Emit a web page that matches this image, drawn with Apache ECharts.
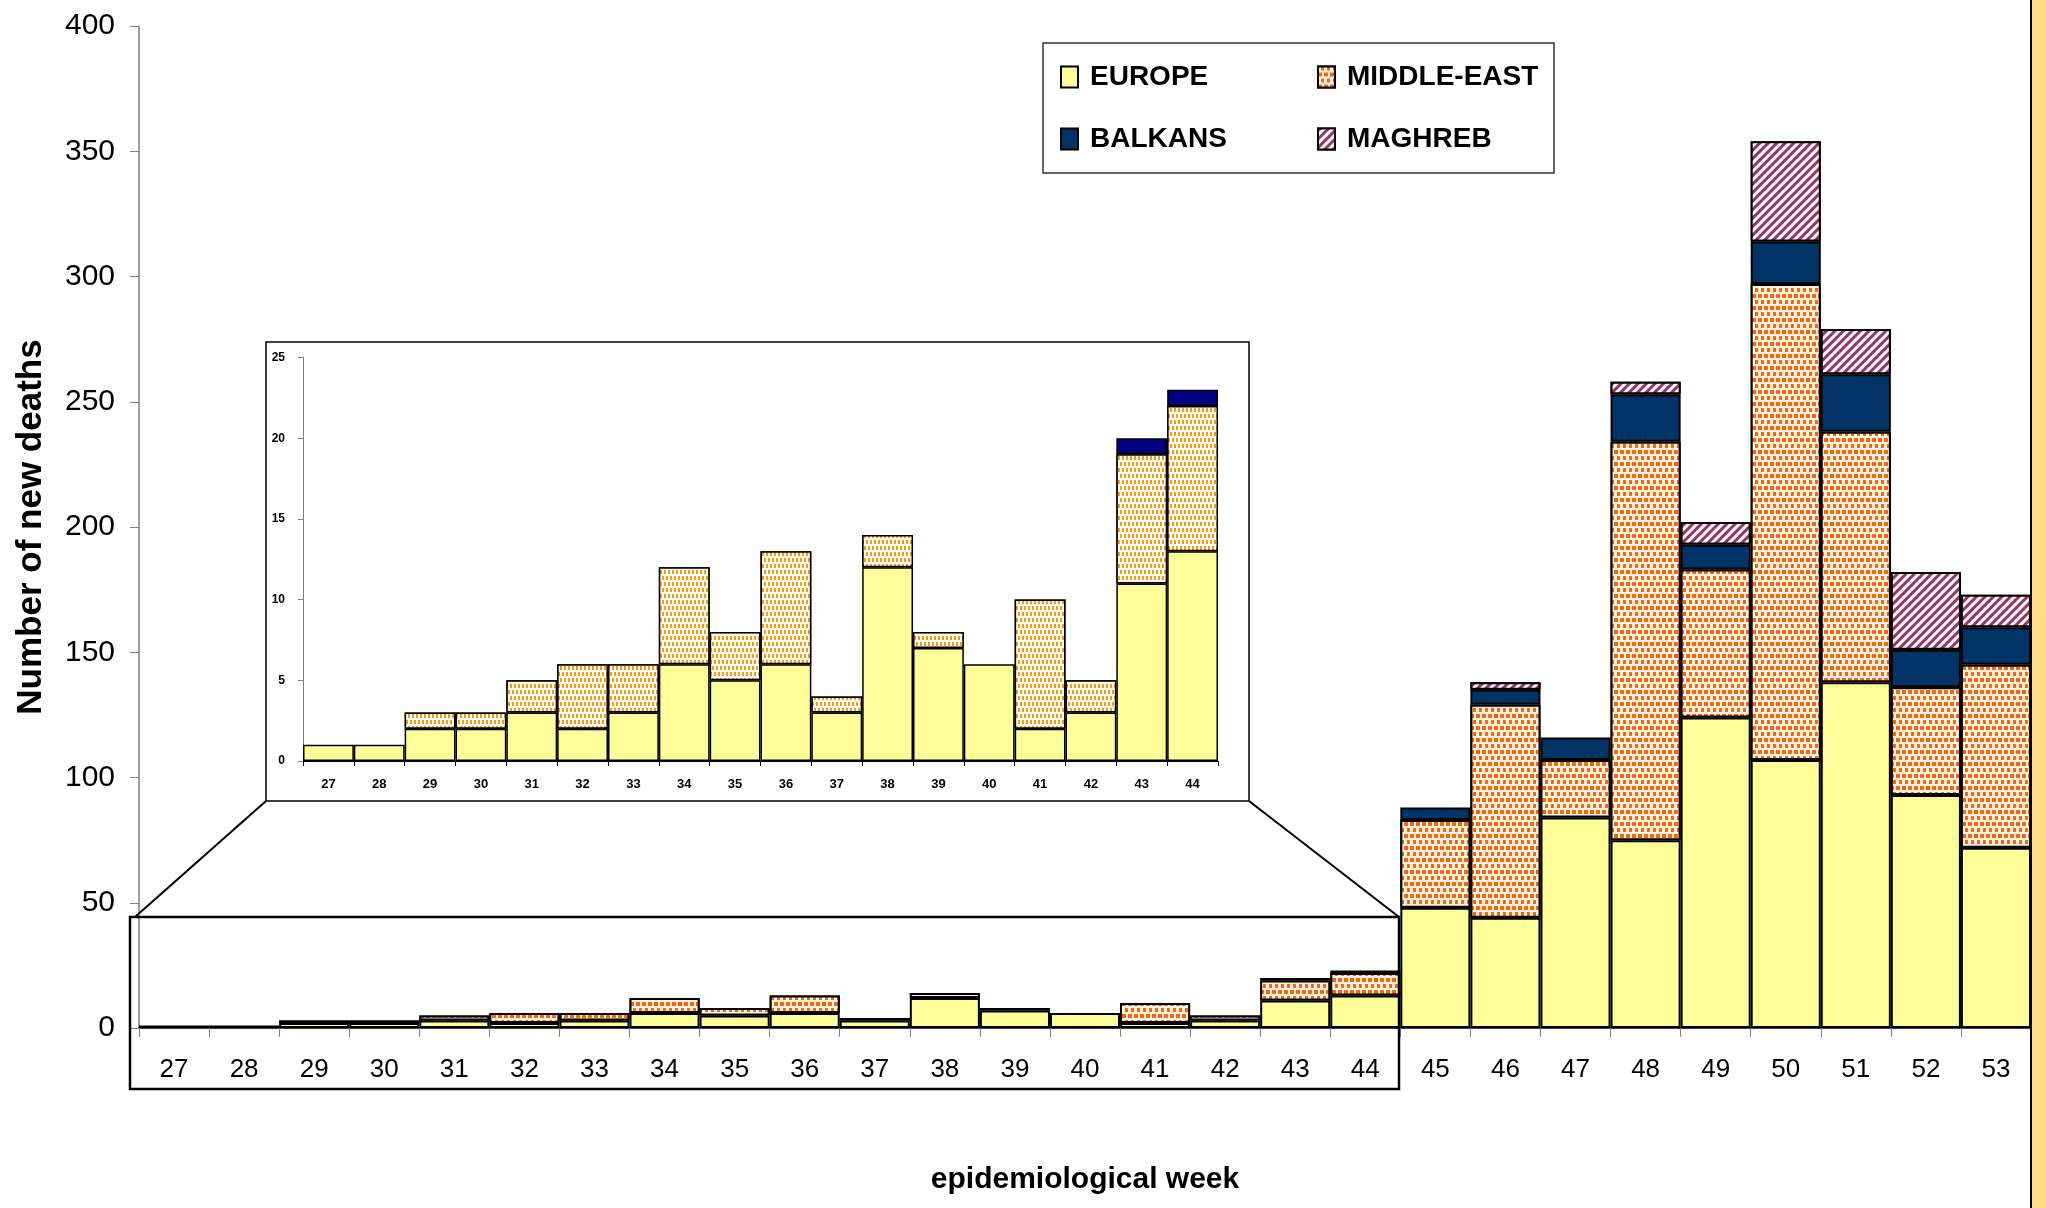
<!DOCTYPE html>
<html>
<head>
<meta charset="utf-8">
<script src="https://cdn.jsdelivr.net/npm/echarts@6/dist/echarts.min.js"></script>
<style>
html,body{margin:0;padding:0;background:#fff;}
#chart{width:2046px;height:1208px;}
</style>
</head>
<body>
<div id="chart"></div>
<script>
// ---- data ----
const weeks = ['27','28','29','30','31','32','33','34','35','36','37','38','39','40','41','42','43','44','45','46','47','48','49','50','51','52','53'];
const europe     = [1,1,2,2,3,2,3,6,5,6,3,12,7,6,2,3,11,13, 48,44,84,75,124,107,138,93,72];
const middleEast = [0,0,1,1,2,4,3,6,3,7,1,2,1,0,8,2,8,9, 35,85,23,159,59,190,100,43,73];
const balkans    = [0,0,0,0,0,0,0,0,0,0,0,0,0,0,0,0,1,1, 5,6,9,19,10,17,23,15,15];
const maghreb    = [0,0,0,0,0,0,0,0,0,0,0,0,0,0,0,0,0,0, 0,3,0,5,9,40,18,31,13];
const mainTicks  = [0,50,100,150,200,250,300,350,400];
const insetTicks = [0,5,10,15,20,25];
const insetCount = 18; // weeks 27..44 shown in the inset

const FONT = "'Liberation Sans',Arial,Helvetica,sans-serif";
const nz = a => a.map(v => v === 0 ? '-' : v);

const decalME = {symbol:'rect', symbolSize:1, symbolKeepAspect:false, color:'#FF6600', backgroundColor:'#FFF3EA',
                 dashArrayX:[[4,2],[0,3,3,0]], dashArrayY:[4,1.5]};
const decalMA = {symbol:'rect', symbolSize:1, symbolKeepAspect:false, color:'#993366', backgroundColor:'#FFFFFF',
                 dashArrayX:[1,0], dashArrayY:[2.5,3], rotation:-Math.PI/4};
const decalMEinset = {symbol:'rect', symbolSize:1, symbolKeepAspect:false, color:'#FF9900', backgroundColor:'#FFFFFF',
                 dashArrayX:[[2,2],[0,2,2,0]], dashArrayY:[4,1.5]};

function bar(name, data, xi, stack, style, bw){
  return {
    type:'bar', name:name, data:nz(data), xAxisIndex:xi, yAxisIndex:xi, stack:stack,
    barCategoryGap:'0%', barGap:'0%',
    itemStyle:Object.assign({borderColor:'#000', borderWidth:bw}, style)
  };
}

const series = [
  bar('EUROPE', europe, 0, 'm', {color:'#FFFF99'}, 2),
  bar('MIDDLE-EAST', middleEast, 0, 'm', {color:'#FFFFFF', decal:decalME}, 2),
  bar('BALKANS', balkans, 0, 'm', {color:'#003366'}, 2),
  bar('MAGHREB', maghreb, 0, 'm', {color:'#FFFFFF', decal:decalMA}, 2),
  bar('EUROPE', europe.slice(0,insetCount), 1, 'i', {color:'#FFFF99'}, 1.5),
  bar('MIDDLE-EAST', middleEast.slice(0,insetCount), 1, 'i', {color:'#FFFFFF', decal:decalMEinset}, 1.5),
  bar('BALKANS', balkans.slice(0,insetCount), 1, 'i', {color:'#000080'}, 1.5)
];

function legend(name, left, top){
  return {
    data:[name], left:left, top:top, padding:0, itemGap:0,
    itemWidth:17, itemHeight:21, selectedMode:false, icon:'rect',
    textStyle:{fontFamily:FONT, fontWeight:'bold', fontSize:28, color:'#000', padding:[0,0,0,7]}
  };
}

const option = {
  animation:false,
  backgroundColor:'#FFFFFF',
  grid:[
    {left:139, right:15, top:26, bottom:180, containLabel:false},
    {left:303, right:828, top:357.5, bottom:447, containLabel:false}
  ],
  legend:[
    legend('EUROPE', 1060, 63),
    legend('MIDDLE-EAST', 1317, 63),
    legend('BALKANS', 1060, 125),
    legend('MAGHREB', 1317, 125)
  ],
  xAxis:[
    {type:'category', gridIndex:0, data:weeks,
     axisLine:{lineStyle:{color:'#000', width:1.5}},
     axisTick:{show:true, length:9, lineStyle:{color:'#808080'}},
     axisLabel:{fontFamily:FONT, fontSize:26, color:'#000', margin:29},
     name:'epidemiological week', nameLocation:'middle', nameGap:137,
     nameTextStyle:{fontFamily:FONT, fontWeight:'bold', fontSize:30, color:'#000'}},
    {type:'category', gridIndex:1, data:weeks.slice(0,insetCount),
     axisLine:{lineStyle:{color:'#000', width:1.2}},
     axisTick:{show:true, length:5, lineStyle:{color:'#000'}},
     axisLabel:{fontFamily:FONT, fontWeight:'bold', fontSize:13, color:'#000', margin:17}}
  ],
  yAxis:[
    {type:'value', gridIndex:0, min:mainTicks[0], max:mainTicks[mainTicks.length-1], interval:mainTicks[1]-mainTicks[0],
     splitLine:{show:false},
     axisLine:{show:true, lineStyle:{color:'#808080', width:1.5}},
     axisTick:{show:true, length:9, lineStyle:{color:'#808080'}},
     axisLabel:{fontFamily:FONT, fontSize:30, color:'#000', margin:24},
     name:'Number of new deaths', nameLocation:'middle', nameRotate:90, nameGap:90,
     nameTextStyle:{fontFamily:FONT, fontWeight:'bold', fontSize:35, color:'#000'}},
    {type:'value', gridIndex:1, min:insetTicks[0], max:insetTicks[insetTicks.length-1], interval:insetTicks[1]-insetTicks[0],
     splitLine:{show:false},
     axisLine:{show:true, lineStyle:{color:'#808080', width:1}},
     axisTick:{show:true, length:5, lineStyle:{color:'#808080'}},
     axisLabel:{fontFamily:FONT, fontWeight:'bold', fontSize:12, color:'#000', margin:18}}
  ],
  graphic:[
    {type:'rect', z:0, shape:{x:1043, y:43, width:511, height:130}, style:{fill:'#FFFFFF', stroke:'#333', lineWidth:1.5}},
    {type:'rect', z:0, shape:{x:266, y:342, width:983, height:459}, style:{fill:null, stroke:'#000', lineWidth:1.5}},
    {type:'rect', z:10, shape:{x:130, y:917, width:1269, height:172}, style:{fill:null, stroke:'#000', lineWidth:2.5}},
    {type:'line', z:10, shape:{x1:135, y1:917, x2:266, y2:801}, style:{stroke:'#000', lineWidth:2}},
    {type:'line', z:10, shape:{x1:1399, y1:917, x2:1249, y2:801}, style:{stroke:'#000', lineWidth:2}},
    {type:'rect', z:10, shape:{x:2032, y:0, width:14, height:1208}, style:{fill:'#FFDA80'}},
    {type:'line', z:10, shape:{x1:2031, y1:0, x2:2031, y2:1208}, style:{stroke:'#000', lineWidth:2}}
  ],
  series:series
};

const chart = echarts.init(document.getElementById('chart'), null, {renderer:'canvas'});
chart.setOption(option);
</script>
</body>
</html>
